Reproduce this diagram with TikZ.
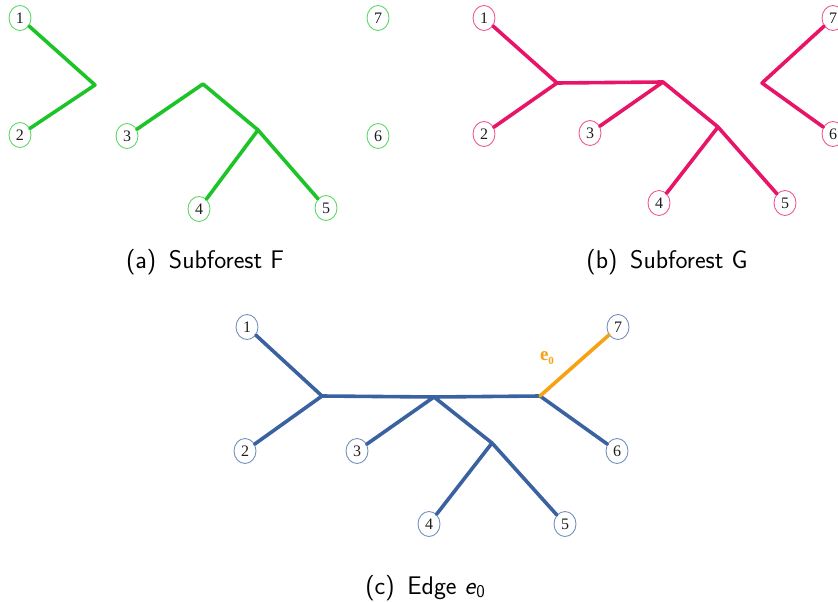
\documentclass[tikz,border=0pt]{standalone}
\usepackage{fontspec}
\newfontfamily\leaffont{Liberation Serif}
\usetikzlibrary{shapes.geometric}
\definecolor{fgreen}{RGB}{28,196,40}
\definecolor{fpink}{RGB}{232,20,104}
\definecolor{fblue}{RGB}{58,98,160}
\definecolor{forange}{RGB}{246,162,20}
\definecolor{labelgray}{RGB}{30,30,30}
\begin{document}
\begin{tikzpicture}[x=1pt,y=-1pt,
  leaf/.style={ellipse,draw=#1!70!white,line width=0.9pt,minimum width=22pt,minimum height=25pt,
    inner sep=0pt,text=labelgray,font=\leaffont\fontsize{16}{16}\selectfont},
  branch/.style={draw=#1,line width=3.6pt,line cap=round,line join=round},
  captext/.style={font=\sffamily\fontsize{25.5}{30}\selectfont}]
\useasboundingbox (0,0) rectangle (838,602);

% ---- (a) Subforest F ----
\node[leaf=fgreen] (a1) at (20,18) {1};
\node[leaf=fgreen] (a2) at (20,135) {2};
\node[leaf=fgreen] (a3) at (127,136) {3};
\node[leaf=fgreen] (a4) at (199,209) {4};
\node[leaf=fgreen] (a5) at (326,208) {5};
\node[leaf=fgreen] (a6) at (378,136) {6};
\node[leaf=fgreen] (a7) at (378,18) {7};
\coordinate (aj1) at (95,85);
\coordinate (aj2) at (203,84);
\coordinate (aj3) at (258,130);
\draw[branch=fgreen] (a1) -- (aj1) -- (a2);
\draw[branch=fgreen] (a3) -- (aj2) -- (aj3);
\draw[branch=fgreen] (aj3) -- (a4);
\draw[branch=fgreen] (aj3) -- (a5);
\node[captext] (capa) at (205,262) {(a)\enspace Subforest F};

% ---- (b) Subforest G ----
\node[leaf=fpink] (b1) at (484,18) {1};
\node[leaf=fpink] (b2) at (484,134) {2};
\node[leaf=fpink] (b3) at (590,133) {3};
\node[leaf=fpink] (b4) at (659,203) {4};
\node[leaf=fpink] (b5) at (785,203) {5};
\node[leaf=fpink] (b6) at (833,134) {6};
\node[leaf=fpink] (b7) at (833,18) {7};
\coordinate (bj1) at (557,83);
\coordinate (bj2) at (663,82);
\coordinate (bj3) at (718,127);
\coordinate (bj4) at (762,83);
\draw[branch=fpink] (b1) -- (bj1) -- (b2);
\draw[branch=fpink] (bj1) -- (bj2) -- (b3);
\draw[branch=fpink] (bj2) -- (bj3) -- (b4);
\draw[branch=fpink] (bj3) -- (b5);
\draw[branch=fpink] (b7) -- (bj4) -- (b6);
\node[captext] (capb) at (667,262) {(b)\enspace Subforest G};

% ---- (c) Edge e0 ----
\node[leaf=fblue] (c1) at (247,327) {1};
\node[leaf=fblue] (c2) at (245,451) {2};
\node[leaf=fblue] (c3) at (357,451) {3};
\node[leaf=fblue] (c4) at (429,524) {4};
\node[leaf=fblue] (c5) at (565,524) {5};
\node[leaf=fblue] (c6) at (617,451) {6};
\node[leaf=fblue] (c7) at (618,327) {7};
\coordinate (cj1) at (322,396);
\coordinate (cj2) at (434,397);
\coordinate (cj3) at (492,443);
\coordinate (cj4) at (540,396);
\draw[branch=fblue] (c1) -- (cj1) -- (c2);
\draw[branch=fblue] (cj1) -- (cj2) -- (cj4) -- (c6);
\draw[branch=fblue] (cj2) -- (c3);
\draw[branch=fblue] (cj2) -- (cj3) -- (c4);
\draw[branch=fblue] (cj3) -- (c5);
\draw[branch=forange] (cj4) -- (c7);
\node[text=forange,font=\leaffont\bfseries\fontsize{19}{19}\selectfont] (e0) at (547,358) {e\raisebox{-4pt}{\fontsize{11}{11}\selectfont 0}};
\node[captext] (capc) at (425,588) {(c)\enspace Edge \textit{e}\raisebox{-3pt}{\fontsize{18}{18}\selectfont 0}};
\end{tikzpicture}
\end{document}
